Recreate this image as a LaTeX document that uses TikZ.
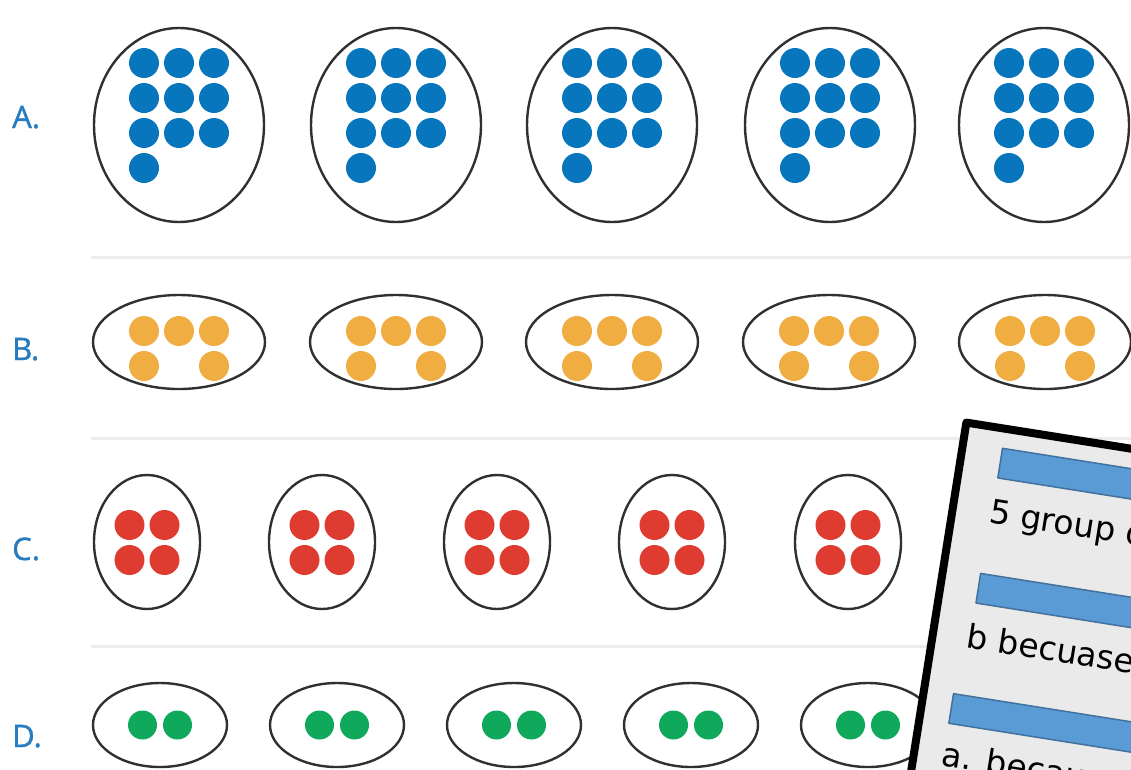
\documentclass[tikz,border=0pt]{standalone}
\usepackage{fontspec}
\newfontfamily\labelfont[FakeBold=1.2]{Open Sans}
\newfontfamily\panelfont{DejaVu Sans}

\definecolor{labelblue}{RGB}{38,124,190}
\definecolor{dotblue}{RGB}{8,118,189}
\definecolor{dotorange}{RGB}{240,173,66}
\definecolor{dotred}{RGB}{222,60,48}
\definecolor{dotgreen}{RGB}{16,169,91}
\definecolor{ringgray}{RGB}{48,48,48}
\definecolor{sepgray}{RGB}{236,236,236}
\definecolor{panelgray}{RGB}{234,234,234}
\definecolor{barfill}{RGB}{91,155,213}
\definecolor{barline}{RGB}{65,113,156}

\tikzset{
  ring/.style={draw=ringgray,line width=2.4pt},
  sepline/.style={draw=sepgray,line width=3pt},
  rowlabel/.style={anchor=base west,text=labelblue,font=\labelfont\fontsize{31}{31}\selectfont},
  panelframe/.style={draw=black,line width=8pt,fill=panelgray},
  barbox/.style={draw=barline,line width=1.5pt,fill=barfill,minimum width=420pt,minimum height=30pt,anchor=north west},
  answer/.style={anchor=base west,font=\panelfont\fontsize{33}{33}\selectfont}
}

\begin{document}
\begin{tikzpicture}[x=1pt,y=-1pt,line cap=round,line join=round,every node/.style={inner sep=0pt}]
  \def\r{15}
  \useasboundingbox (0,0) rectangle (1131,769);
  \clip (0,0) rectangle (1131,769);

  % separators between the rows
  \foreach \y in {257,438,646}
    \draw[sepline] (92,\y) -- (1131,\y);

  % row labels
  \node[rowlabel] (labA) at (12,128) {A.};
  \node[rowlabel] (labB) at (12,360) {B.};
  \node[rowlabel] (labC) at (12,560) {C.};
  \node[rowlabel] (labD) at (12,747) {D.};

  % row A: groups of ten
  \foreach \cx in {179,396,612,830,1044} {
    \draw[ring] (\cx,125) ellipse (85 and 97);
    \foreach \dx in {-35,0,35}
      \foreach \dy in {63,98,133}
        \fill[dotblue] (\cx+\dx,\dy) circle (\r);
    \fill[dotblue] (\cx-35,168) circle (\r);
  }

  % row B: groups of five
  \foreach \cx in {179,396,612,829,1045} {
    \draw[ring] (\cx,342) ellipse (86 and 47);
    \foreach \dx in {-35,0,35}
      \fill[dotorange] (\cx+\dx,331) circle (\r);
    \fill[dotorange] (\cx-35,366) circle (\r);
    \fill[dotorange] (\cx+35,366) circle (\r);
  }

  % row C: groups of four
  \foreach \cx in {147,322,497,672,848} {
    \draw[ring] (\cx,542) ellipse (53 and 67);
    \foreach \dx in {-17.5,17.5}
      \foreach \dy in {525,560}
        \fill[dotred] (\cx+\dx,\dy) circle (\r);
  }

  % row D: groups of two
  \foreach \cx in {160,337,514,691,868} {
    \draw[ring] (\cx,725) ellipse (67 and 42);
    \fill[dotgreen] (\cx-17.5,725) circle (14.5);
    \fill[dotgreen] (\cx+17.5,725) circle (14.5);
  }

  % answer panel lying over the corner
  \begin{scope}[shift={(963,418)},rotate=-9,transform shape]
    \draw[panelframe] (4,4) rectangle (620,620);
    \node[barbox] (bar1) at (43,23) {};
    \node[answer] (ans1) at (41,99) {5 group of};
    \node[barbox] (bar2) at (41,150) {};
    \node[answer] (ans2) at (38,226) {b becuase};
    \node[barbox] (bar3) at (33,273) {};
    \node[answer] (ans3) at (32,347) {a. because};
  \end{scope}
\end{tikzpicture}
\end{document}
